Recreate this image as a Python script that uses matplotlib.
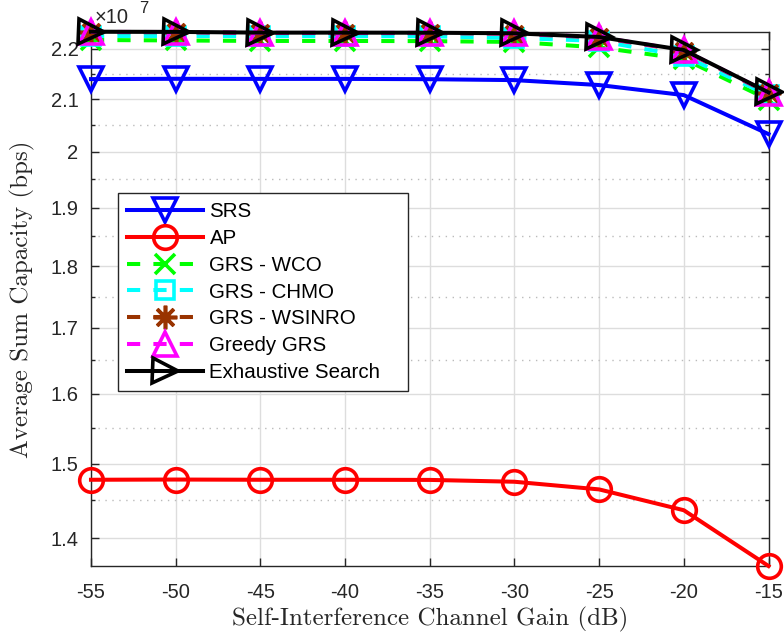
import matplotlib
matplotlib.use("Agg")
import matplotlib.pyplot as plt
from matplotlib.ticker import FixedLocator, FuncFormatter, NullFormatter

# Self-interference channel gain (dB)
si_gain_db = [-55, -50, -45, -40, -35, -30, -25, -20, -15]

# Average sum capacity, in units of 1e7 bps
srs = [2.1392, 2.1398, 2.1396, 2.1396, 2.1390, 2.1372, 2.1275, 2.1078, 2.0333]
ap = [1.4777, 1.4780, 1.4777, 1.4777, 1.4775, 1.4750, 1.4646, 1.4367, 1.3646]
grs_wco = [2.2179, 2.2169, 2.2159, 2.2159, 2.2155, 2.2139, 2.2027, 2.1793, 2.0990]
grs_chmo = [2.2261, 2.2261, 2.2258, 2.2258, 2.2255, 2.2219, 2.2160, 2.1853, 2.1078]
grs_wsinro = [2.2340, 2.2338, 2.2322, 2.2322, 2.2320, 2.2308, 2.2230, 2.1960, 2.1120]
greedy_grs = [2.2345, 2.2342, 2.2326, 2.2326, 2.2324, 2.2312, 2.2236, 2.1968, 2.1126]
exhaustive = [2.2349, 2.2345, 2.2330, 2.2330, 2.2328, 2.2316, 2.2240, 2.1974, 2.1131]

y_major = [1.4, 1.5, 1.6, 1.7, 1.8, 1.9, 2.0, 2.1, 2.2]
y_minor = [1.45, 1.55, 1.65, 1.75, 1.85, 1.95, 2.05, 2.15]
x_ticks = [-55, -50, -45, -40, -35, -30, -25, -20, -15]

plt.rcParams["font.family"] = ["Liberation Sans", "DejaVu Sans"]
plt.rcParams["lines.scale_dashes"] = False

W, H = 784, 638
fig = plt.figure(figsize=(W / 100, H / 100), dpi=100)
ax = fig.add_axes([91 / W, 1 - 566 / H, (768.5 - 91) / W, (566 - 31.7) / H])

lw = 2.9
mew = 2.6
dash = (0, (9.5, 9.5))
series = [
    (srs, "SRS", "#0000ff", "v", "-", 17),
    (ap, "AP", "#ff0000", "o", "-", 17),
    (grs_wco, "GRS - WCO", "#00ff00", "x", dash, 15),
    (grs_chmo, "GRS - CHMO", "#00ffff", "s", dash, 13),
    (grs_wsinro, "GRS - WSINRO", "#993300", (8, 2, 0), dash, 17),
    (greedy_grs, "Greedy GRS", "#ff00ff", "^", dash, 17),
    (exhaustive, "Exhaustive Search", "#000000", ">", "-", 18),
]
for vals, label, color, marker, ls, ms in series:
    ax.plot(si_gain_db, vals, color=color, linestyle=ls, linewidth=lw,
            marker=marker, markersize=ms, markerfacecolor="none",
            markeredgecolor=color, markeredgewidth=mew, label=label,
            clip_on=False, zorder=3)

all_vals = srs + ap + grs_wco + grs_chmo + grs_wsinro + greedy_grs + exhaustive
ax.set_yscale("log")
ax.set_ylim(min(all_vals), max(all_vals))
ax.set_xlim(min(si_gain_db), max(si_gain_db))

ax.yaxis.set_major_locator(FixedLocator(y_major))
ax.yaxis.set_minor_locator(FixedLocator(y_minor))
ax.yaxis.set_major_formatter(FuncFormatter(lambda v, p: f"{v:g}"))
ax.yaxis.set_minor_formatter(NullFormatter())
ax.set_xticks(x_ticks)
ax.set_xticklabels([str(t) for t in x_ticks])

ax.grid(True, which="major", color="#dddddd", linewidth=1.0, linestyle="-", zorder=0)
ax.grid(True, which="minor", axis="y", color="#bbbbbb", linewidth=1.0,
        linestyle=(0, (1, 4)), zorder=0)
ax.set_axisbelow(True)

dark = "#262626"
for s in ax.spines.values():
    s.set_color(dark)
    s.set_linewidth(1.0)
ax.tick_params(which="both", direction="in", top=True, right=True, colors=dark,
               labelcolor="#262626", labelsize=14.5)
ax.tick_params(which="major", length=5.5, width=1.0)
ax.tick_params(axis="x", which="major", pad=12)
ax.tick_params(axis="y", which="major", pad=9)
ax.tick_params(which="minor", length=3, width=1.0)

ax.set_xlabel("Self-Interference Channel Gain (dB)", family="cmr10", fontsize=18,
              color="#262626", labelpad=4)
ax.set_ylabel("Average Sum Capacity (bps)", family="cmr10", fontsize=18,
              color="#262626", labelpad=11)

fig.text(95 / W, 1 - 23 / H, "\u00d710", fontsize=14.5, color="#262626", va="baseline")
fig.text(139 / W, 1 - 13 / H, "7", fontsize=12, color="#262626", va="baseline")

x0 = (118 - 91) / 677.5
x1 = (408 - 91) / 677.5
y1 = (566 - 193) / 534.3
y0 = (566 - 390) / 534.3
leg = ax.legend(loc="upper left", bbox_to_anchor=(x0, y0, x1 - x0, y1 - y0),
                mode="expand", borderaxespad=0, fontsize=14.8, handlelength=3.7,
                handletextpad=0.3, labelspacing=0.38, borderpad=0.45,
                fancybox=False, framealpha=1, edgecolor=dark)
leg.get_frame().set_linewidth(1.0)

fig.savefig("out.png", dpi=100)
